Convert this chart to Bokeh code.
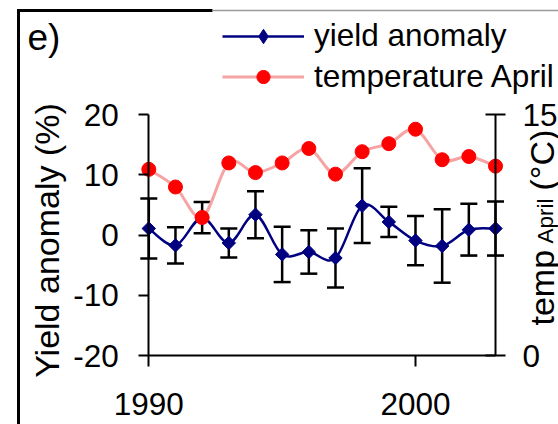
import numpy as np
from bokeh.plotting import figure
from bokeh.models import (Range1d, LinearAxis, FixedTicker, Whisker, TeeHead, ColumnDataSource,
                          Legend, LegendItem, Label, BoxAnnotation)
from bokeh.embed import file_html
from bokeh.resources import INLINE

# ---- data ----
years = [1990, 1991, 1992, 1993, 1994, 1995, 1996, 1997, 1998, 1999, 2000, 2001, 2002, 2003]
yield_anomaly = [1.1, -1.7, 2.9, -1.3, 3.4, -3.2, -2.8, -3.8, 4.9, 2.2, -0.9, -1.8, 0.9, 1.1]
yield_error = [5.0, 3.0, 2.6, 2.4, 3.9, 4.6, 3.6, 4.9, 6.2, 2.5, 4.1, 6.1, 4.3, 4.5]
temp_april = [11.6, 10.5, 8.6, 12.0, 11.4, 12.0, 12.9, 11.3, 12.7, 13.2, 14.1, 12.2, 12.4, 11.8]

x_ticks = [1990, 2000]
left_ticks = [-20, -10, 0, 10, 20]
right_ticks = [0, 15]

FONT = "Liberation Sans"
NAVY = "#000080"
RED = "#ff0000"
PINK = "#f5a3a3"

# ---- layout (pixels) ----
W, H = 558, 424
PX_L, PX_R = 148.3, 495.0      # x of 1990 and 2003
PY_T, PY_B = 114.3, 355.0      # y of top (20 / 15) and bottom (-20 / 0)

kx = 13 / (PX_R - PX_L)
xr = Range1d(1990 - PX_L * kx, 2003 + (W - PX_R) * kx)
k_l = 40 / (PY_B - PY_T)
yr = Range1d(-20 - (H - PY_B) * k_l, 20 + PY_T * k_l)
k_t = 15 / (PY_B - PY_T)
tr = Range1d(0 - (H - PY_B) * k_t, 15 + PY_T * k_t)


def dx(px):
    return xr.start + px * kx


def dy(py):
    return yr.end - py * k_l


p = figure(width=W, height=H, x_range=xr, y_range=yr,
           output_backend="svg", toolbar_location=None,
           x_axis_type=None, y_axis_type=None,
           min_border_left=0, min_border_right=0, min_border_top=0, min_border_bottom=0)
p.extra_y_ranges = {"temp": tr}
p.outline_line_color = None
p.background_fill_color = "white"
p.border_fill_color = "white"


def style_axis(ax):
    ax.axis_line_color = "black"
    ax.axis_line_width = 2
    ax.major_tick_line_color = "black"
    ax.major_tick_line_width = 2
    ax.minor_tick_line_color = None
    ax.major_label_text_font = FONT
    ax.major_label_text_font_size = "31.5px"
    ax.major_label_text_color = "black"


xaxis = LinearAxis(ticker=FixedTicker(ticks=x_ticks), fixed_location=-20, bounds=(1990, 2003))
style_axis(xaxis)
xaxis.major_tick_out = 11
xaxis.major_tick_in = 0
xaxis.major_label_standoff = 26
p.add_layout(xaxis, "below")

laxis = LinearAxis(ticker=FixedTicker(ticks=left_ticks), fixed_location=1990, bounds=(-20, 20))
style_axis(laxis)
laxis.major_tick_out = 10
laxis.major_tick_in = 0
laxis.major_label_standoff = 20
laxis.major_label_overrides = {-20: "-20", -10: "-10", 0: "0", 10: "10", 20: "20"}
p.add_layout(laxis, "left")

raxis = LinearAxis(ticker=FixedTicker(ticks=right_ticks), y_range_name="temp",
                   fixed_location=2003, bounds=(0, 15))
style_axis(raxis)
raxis.major_tick_out = 10
raxis.major_tick_in = 10
raxis.major_label_standoff = 17
p.add_layout(raxis, "right")


def smooth(xs, ys):
    n = len(xs)
    out = {k: [] for k in ("x0", "y0", "x1", "y1", "cx0", "cy0", "cx1", "cy1")}
    for i in range(n - 1):
        a = max(i - 1, 0)
        b = min(i + 2, n - 1)
        out["x0"].append(xs[i]); out["y0"].append(ys[i])
        out["x1"].append(xs[i + 1]); out["y1"].append(ys[i + 1])
        out["cx0"].append(xs[i] + (xs[i + 1] - xs[a]) / 6)
        out["cy0"].append(ys[i] + (ys[i + 1] - ys[a]) / 6)
        out["cx1"].append(xs[i + 1] - (xs[b] - xs[i]) / 6)
        out["cy1"].append(ys[i + 1] - (ys[b] - ys[i]) / 6)
    return ColumnDataSource(out)


# error bars
err_src = ColumnDataSource(dict(
    year=years,
    upper=[v + e for v, e in zip(yield_anomaly, yield_error)],
    lower=[v - e for v, e in zip(yield_anomaly, yield_error)],
))
wh = Whisker(source=err_src, base="year", upper="upper", lower="lower", dimension="height",
             line_color="black", line_width=2.5,
             upper_head=TeeHead(size=17, line_color="black", line_width=2.5),
             lower_head=TeeHead(size=17, line_color="black", line_width=2.5))
p.add_layout(wh)

# legend proxies (single point each, hidden under the real marks)
l_blue = p.line([years[0]], [yield_anomaly[0]], line_color=NAVY, line_width=2.5)
d_blue = p.scatter([years[0]], [yield_anomaly[0]], marker="diamond", size=1,
                   fill_color=NAVY, line_color=NAVY)
l_pink = p.line([years[0]], [temp_april[0]], line_color=PINK, line_width=3, y_range_name="temp")

# yield line (smoothed) + diamonds
p.bezier(x0="x0", y0="y0", x1="x1", y1="y1", cx0="cx0", cy0="cy0", cx1="cx1", cy1="cy1",
         source=smooth(years, yield_anomaly), line_color=NAVY, line_width=2.5)
y_marks = p.scatter(years, yield_anomaly, marker="square", angle=np.pi / 4, size=9.5,
                    fill_color=NAVY, line_color=NAVY)

# temperature line (smoothed) + dots
p.bezier(x0="x0", y0="y0", x1="x1", y1="y1", cx0="cx0", cy0="cy0", cx1="cx1", cy1="cy1",
         source=smooth(years, temp_april), line_color=PINK, line_width=3, y_range_name="temp")
t_marks = p.scatter(years, temp_april, marker="circle", size=14, fill_color=RED, line_color=RED,
                    y_range_name="temp")

# legends (one per entry so each marker keeps its own size)
common = dict(orientation="vertical", glyph_width=82, label_standoff=10, padding=0, margin=0,
              spacing=0, border_line_color=None, background_fill_alpha=0,
              label_text_font=FONT, label_text_font_size="31.5px", label_text_color="black")
leg1 = Legend(items=[LegendItem(label="yield anomaly", renderers=[l_blue, d_blue])],
              location=(222, 370), glyph_height=36, **common)
leg2 = Legend(items=[LegendItem(label="temperature April", renderers=[l_pink, t_marks])],
              location=(222, 329), glyph_height=33, **common)
p.add_layout(leg1, "center")
p.add_layout(leg2, "center")

# panel label
p.add_layout(Label(x=27, y=37, x_units="canvas", y_units="canvas", text="e)",
                   text_font=FONT, text_font_size="37px", text_color="black",
                   text_baseline="middle"))

# left axis title
p.add_layout(Label(x=46, y=240, x_units="canvas", y_units="canvas", text="Yield anomaly (%)",
                   angle=np.pi / 2, text_font=FONT, text_font_size="34px", text_color="black",
                   text_align="center", text_baseline="middle"))

# right axis title with subscript
for txt, yy, xx, fs in (("temp", 325, 541, "34px"), ("April", 243, 545, "22.5px"),
                        ("(°C)", 190, 541, "34px")):
    p.add_layout(Label(x=xx, y=yy, x_units="canvas", y_units="canvas", text=txt, angle=np.pi / 2,
                       text_font=FONT, text_font_size=fs, text_color="black",
                       text_align="left", text_baseline="middle"))

# panel frame (left and top edges)
p.add_layout(BoxAnnotation(left=dx(16.5), right=dx(19.5), top=dy(8.5), bottom=dy(440),
                           fill_color="black", fill_alpha=1, line_color=None))
p.add_layout(BoxAnnotation(left=dx(16.5), right=dx(212), top=dy(8.5), bottom=dy(11.5),
                           fill_color="black", fill_alpha=1, line_color=None))
p.add_layout(BoxAnnotation(left=dx(212), right=dx(600), top=dy(9.3), bottom=dy(10.7),
                           fill_color="#9a9a9a", fill_alpha=1, line_color=None))

open("out.html", "w").write(file_html(p, INLINE))
